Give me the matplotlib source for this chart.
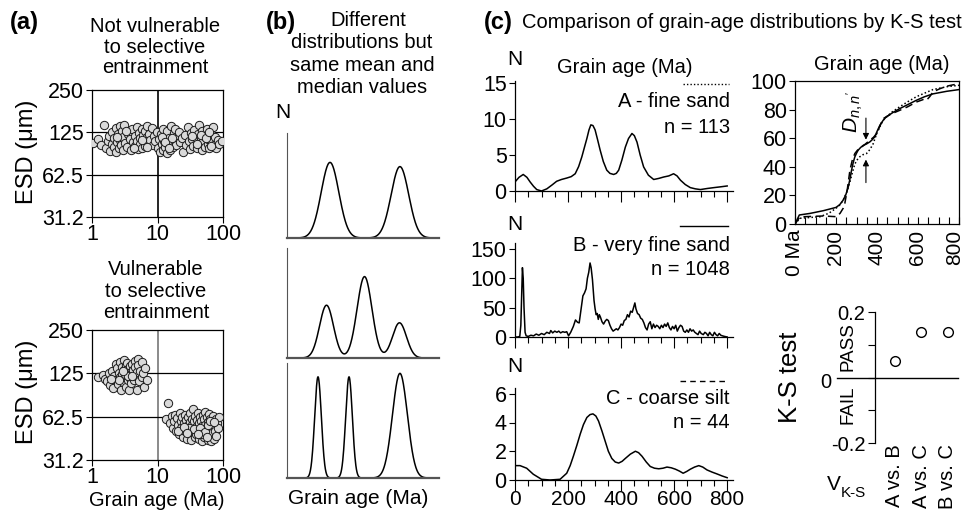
import numpy as np
import matplotlib
matplotlib.use("Agg")
import matplotlib.pyplot as plt
from matplotlib.lines import Line2D
from matplotlib.ticker import NullLocator
from matplotlib.transforms import ScaledTranslation

plt.rcParams['font.family'] = ['Liberation Sans', 'DejaVu Sans']
plt.rcParams['mathtext.fontset'] = 'custom'
plt.rcParams['mathtext.it'] = 'Liberation Sans:italic'
plt.rcParams['mathtext.rm'] = 'Liberation Sans'

# ---------------------------------------------------------------- data
# (a) grain age (Ma) vs equivalent spherical diameter (um)
top_age = [1.05, 1.25, 1.35, 1.55, 1.65, 1.75, 1.8, 1.9, 2.0, 2.05, 2.15, 2.2, 2.3, 2.35, 2.45,
           2.5, 2.6, 2.65, 2.7, 2.8, 2.85, 2.95, 3.0, 3.1, 3.2, 3.4, 3.6, 3.8, 4.0, 4.1, 4.3,
           4.5, 4.6, 4.8, 4.9, 5.0, 5.2, 5.4, 5.5, 5.7, 5.8, 6.0, 6.2, 6.4, 6.5, 6.8, 7.0, 7.2,
           7.5, 7.8, 8.1, 8.4, 8.8, 9.2, 9.8, 10.3, 10.6, 11.0, 11.3, 11.6, 12.0, 12.3, 12.7,
           13.0, 13.4, 13.8, 14.2, 14.6, 15.0, 15.5, 16.0, 16.5, 17.0, 17.6, 18.2, 18.8, 19.5,
           20.3, 21.2, 22.3, 23.5, 24.8, 26.0, 27.5, 29.0, 30.5, 31.5, 32.5, 33.5, 35.0, 36.5,
           38.0, 39.5, 41.0, 42.5, 44.0, 45.5, 47.0, 48.5, 50.0, 52.0, 54.0, 56.0, 58.0, 60.0,
           62.0, 64.5, 67.0, 70.0, 73.0, 76.0, 79.0, 83.0, 88.0, 95.0, 2.4, 3.3, 4.4, 5.9, 6.9,
           11.8, 13.2, 14.9, 16.8, 34.0, 40.0, 46.0, 55.0, 61.0, 66.0]
top_esd = [105, 112, 101, 140, 96, 108, 118, 92, 104, 126, 99, 113, 134, 90, 107,
           121, 97, 138, 110, 102, 128, 94, 116, 141, 105, 99, 122, 112, 93, 131, 106,
           118, 100, 137, 109, 95, 124, 113, 103, 132, 97, 119, 108, 127, 100, 115, 139, 105,
           122, 111, 134, 101, 117, 108, 126, 96, 112, 90, 121, 104, 93, 133, 109,
           98, 118, 89, 127, 103, 114, 94, 138, 107, 99, 123, 110, 131, 101,
           116, 125, 106, 113, 91, 119, 102, 136, 108, 95, 124, 112, 100, 130,
           115, 97, 121, 141, 106, 114, 94, 127, 109, 118, 99, 133, 104, 112,
           96, 122, 107, 137, 101, 115, 97, 110, 104, 108, 115, 128, 96, 111, 98,
           115, 106, 97, 113, 118, 104, 120, 113, 125, 100]

young_age = [1.25, 1.45, 1.6, 1.7, 1.8, 1.9, 2.0, 2.1, 2.2, 2.3, 2.35, 2.45, 2.5, 2.6, 2.65,
             2.7, 2.8, 2.85, 2.9, 3.0, 3.05, 3.1, 3.2, 3.25, 3.3, 3.4, 3.45, 3.5, 3.6, 3.65,
             3.7, 3.8, 3.85, 3.9, 4.0, 4.1, 4.2, 4.3, 4.4, 4.5, 4.6, 4.7, 4.8, 4.9, 5.0, 5.1,
             5.3, 5.5, 5.7, 5.9, 6.1, 6.3, 6.5, 6.8, 2.55, 3.15, 3.55, 2.95, 4.05, 1.95]
young_esd = [118, 122, 114, 110, 126, 104, 130, 99, 120, 145, 112, 135, 106, 126, 150,
             117, 96, 138, 123, 109, 155, 131, 118, 142, 101, 127, 148, 113, 134, 122,
             96, 140, 116, 128, 107, 145, 124, 132, 113, 152, 138, 119, 95, 127, 157, 142,
             110, 130, 150, 118, 125, 100, 137, 113, 112, 124, 120, 130, 119, 115]

old_age = [14.5, 13.5, 15.5, 16.5, 17.0, 18.0, 18.5, 19.0, 20.0, 20.5, 21.0, 22.0, 22.5, 23.0,
           24.0, 24.5, 25.0, 26.0, 26.5, 27.0, 28.0, 28.5, 29.0, 30.0, 31.0, 31.5, 32.0, 33.0,
           33.5, 34.0, 35.0, 35.5, 36.0, 37.0, 38.0, 38.5, 39.0, 40.0, 41.0, 42.0, 42.5, 43.0,
           44.0, 45.0, 46.0, 47.0, 48.0, 49.0, 50.0, 51.0, 52.0, 53.0, 54.0, 55.0, 56.0, 57.0,
           58.0, 59.0, 60.0, 61.0, 62.0, 63.0, 64.0, 65.0, 66.0, 67.0, 68.0, 70.0, 72.0, 73.0,
           75.0, 77.0, 79.0, 81.0, 84.0, 86.0, 30.5, 36.5, 44.5, 48.5, 53.5, 58.5, 62.5, 20.8,
           25.5, 27.8, 41.5, 57.5, 74.0]
old_esd = [78, 60, 56, 63, 52, 58, 64, 50, 61, 55, 47, 66, 58, 52,
           62, 45, 56, 64, 50, 59, 44, 54, 62, 48, 57, 66, 52, 43,
           60, 55, 71, 49, 58, 45, 63, 53, 47, 59, 66, 51, 44, 56,
           62, 48, 58, 42, 54, 64, 50, 45, 60, 55, 67, 47, 52, 62,
           43, 57, 50, 65, 46, 54, 60, 42, 52, 58, 48, 63, 44, 55,
           50, 60, 46, 56, 52, 62, 52, 51, 52, 47, 49, 55, 58, 50,
           53, 48, 47, 45, 57]

esd_ticks = [31.2, 62.5, 125, 250]
esd_labels = ['31.2', '62.5', '125', '250']
age_ticks_log = [1, 10, 100]

# (b) idealised age spectra: peak centre, height and width (fraction of age axis)
b_centers = [[0.283, 0.743], [0.26, 0.51, 0.74], [0.204, 0.408, 0.743]]
b_heights = [[0.72, 0.68], [0.48, 0.74, 0.32], [0.88, 0.88, 0.91]]
b_widths = [[0.058, 0.058], [0.046, 0.049, 0.046], [0.022, 0.022, 0.049]]

# (c) probability density of grain ages per size fraction
a_age = [0, 15, 31, 45, 57, 70, 82, 100, 120, 140, 157, 175, 195, 212, 227, 240, 252, 262,
         271, 279, 286, 294, 302, 311, 321, 333, 346, 358, 372, 382, 391, 403, 416, 428, 441,
         450, 460, 472, 485, 503, 523, 542, 561, 580, 598, 611, 624, 642, 661, 680, 699, 725,
         750, 775, 800]
a_n = [1.26, 1.9, 2.3, 1.9, 1.26, 0.65, 0.2, 0.0, 0.3, 0.85, 1.35, 1.6, 1.8, 2.0, 2.4, 3.4,
       4.75, 6.1, 7.3, 8.5, 9.2, 9.1, 8.5, 7.2, 5.7, 4.1, 2.9, 2.45, 2.3, 2.45, 2.9, 4.3, 6.1,
       7.3, 8.0, 7.7, 6.8, 5.0, 3.35, 2.2, 1.6, 1.75, 1.95, 2.1, 2.4, 2.1, 1.5, 0.9, 0.47, 0.3,
       0.2, 0.35, 0.47, 0.58, 0.7]

b_age = [0, 10, 18, 22, 25, 28, 31, 34, 38, 42, 50, 60, 70, 80, 90, 100, 110, 120, 130, 135,
         142, 150, 158, 165, 172, 180, 188, 195, 202, 210, 220, 228, 236, 242, 250, 256, 262,
         268, 273, 278, 283, 287, 292, 298, 302, 306, 310, 314, 318, 322, 328, 334, 340, 346,
         352, 358, 364, 370, 376, 382, 388, 394, 400, 406, 412, 418, 424, 430, 436, 442, 448,
         452, 456, 462, 468, 474, 480, 486, 492, 498, 504, 510, 516, 522, 528, 534, 540, 546,
         552, 558, 564, 570, 576, 582, 588, 594, 600, 606, 612, 618, 624, 630, 636, 642, 648,
         654, 660, 666, 672, 678, 684, 690, 696, 702, 710, 716, 722, 728, 734, 740, 746, 752,
         758, 764, 770, 776, 782, 790, 800]
b_n = [0, 0, 1, 20, 70, 118, 100, 50, 8, 2, 1, 3, 2, 5, 3, 6, 4, 8, 6, 11,
       7, 10, 8, 10, 7, 9, 8, 9, 2, 8, 18, 29, 25, 24, 50, 70, 75,
       82, 100, 110, 126, 118, 98, 62, 48, 38, 40, 30, 38, 34, 26, 22, 27, 30,
       28, 20, 14, 10, 12, 14, 12, 16, 22, 20, 28, 30, 38, 34, 44, 42, 52,
       58, 48, 40, 38, 32, 30, 24, 16, 12, 22, 26, 14, 22, 16, 20, 18, 14,
       20, 16, 22, 18, 24, 16, 12, 18, 14, 20, 10, 16, 20, 18, 10, 8, 12,
       8, 14, 10, 12, 8, 6, 4, 10, 6, 4, 8, 6, 2, 8, 4, 2, 8,
       4, 2, 6, 3, 2, 1, 0]

c_age = [0, 19, 44, 69, 100, 132, 170, 195, 208, 220, 233, 246, 258, 271, 283, 294, 305, 315,
         328, 340, 352, 365, 378, 391, 404, 416, 435, 454, 466, 479, 495, 510, 526, 542, 558,
         573, 589, 605, 620, 634, 648, 661, 677, 693, 708, 724, 743, 762, 781, 800]
c_n = [1.0, 1.0, 0.82, 0.4, 0.05, 0.0, 0.05, 0.47, 1.0, 1.65, 2.4, 3.2, 3.85, 4.35, 4.55,
       4.6, 4.45, 4.1, 3.4, 2.7, 2.0, 1.5, 1.25, 1.18, 1.3, 1.5, 1.8, 2.0, 1.9, 1.65, 1.25,
       0.94, 0.82, 0.78, 0.82, 0.9, 0.85, 0.75, 0.62, 0.47, 0.6, 0.75, 0.9, 1.0, 0.9, 0.7,
       0.55, 0.42, 0.28, 0.16]

# cumulative age distributions (%)
cdf_a_age = [0, 24, 70, 122, 165, 200, 220, 235, 252, 268, 280, 292, 304, 316, 332, 349, 365,
             381, 398, 414, 430, 470, 511, 550, 592, 632, 673, 740, 800]
cdf_a = [0, 4, 4.5, 5.1, 7.5, 11, 13.5, 16.7, 22, 29.5, 36, 42, 45, 47, 48.5, 49.3, 52,
         56, 63, 68, 72.6, 78, 82, 85.5, 89, 91.5, 94, 96, 97]
cdf_b_age = [0, 21, 73, 138, 200, 218, 235, 248, 260, 268, 276, 284, 292, 300, 308, 320, 333,
             349, 365, 377, 389, 401, 414, 430, 446, 478, 511, 550, 592, 632, 673, 740, 800]
cdf_b = [0, 6.3, 7.4, 9.3, 11.6, 13.5, 16.7, 20.5, 26, 31.5, 37.7, 43, 47, 49.5, 51.6, 53.5,
         55, 56, 57.4, 59, 61, 65, 69, 72.5, 75, 78, 80.7, 83.5, 86.5, 89, 91, 92.8, 94]
cdf_c_age = [0, 24, 80, 138, 203, 220, 235, 243, 255, 268, 280, 292, 304, 316, 340, 365, 382,
             398, 414, 430, 470, 511, 550, 592, 625, 641, 657, 673, 705, 738, 770, 800]
cdf_c = [0, 5, 5.3, 5.6, 5.1, 7.5, 11, 14.4, 24, 37.7, 45, 49.3, 51.5, 52.8, 55.5, 58.6, 60.5,
         63, 68.5, 73.7, 77, 79.5, 82, 85.3, 87, 86.5, 89, 92.3, 94.5, 96.3, 97.3, 98]

# Kolmogorov-Smirnov test statistic for each pair of fractions
ks_pairs = ['A vs. B', 'A vs. C', 'B vs. C']
ks_values = [0.05, 0.14, 0.14]

# ---------------------------------------------------------------- figure
W, H = 965, 511
fig = plt.figure(figsize=(W / 100, H / 100), dpi=100)


def rect(x0, y0, x1, y1):
    return [x0 / W, 1 - y1 / H, (x1 - x0) / W, (y1 - y0) / H]


def ftext(x, y, s, **kw):
    kw.setdefault('ha', 'center')
    kw.setdefault('va', 'center')
    fig.text(x / W, 1 - y / H, s, **kw)


def fline(x0, x1, y, **kw):
    fig.add_artist(Line2D([x0 / W, x1 / W], [1 - y / H, 1 - y / H],
                          transform=fig.transFigure, color='black', **kw))


LBL = 15.5
TXT = 14.5

# ---- (a) scatter plots
def scatter_panel(r, groups, vcolor):
    ax = fig.add_axes(rect(*r))
    ax.set_xscale('log')
    ax.set_yscale('log', base=2)
    ax.set_xlim(1, 100)
    ax.set_ylim(31.2, 250)
    ax.axvline(10, color=vcolor, lw=1.2, zorder=1)
    for yv in esd_ticks[1:3]:
        ax.axhline(yv, color='black', lw=0.9, zorder=1)
    for ages, esd in groups:
        ax.scatter(ages, esd, s=36, facecolor='#d9d9d9', edgecolor='#1a1a1a',
                   linewidths=0.7, zorder=3)
    ax.set_xticks(age_ticks_log, [str(t) for t in age_ticks_log])
    ax.set_yticks(esd_ticks, esd_labels)
    ax.xaxis.set_minor_locator(NullLocator())
    ax.yaxis.set_minor_locator(NullLocator())
    ax.tick_params(length=4, width=0.8, labelsize=LBL, pad=2)
    ax.tick_params(axis='x', pad=1)
    for s in ax.spines.values():
        s.set_linewidth(0.9)
    return ax


scatter_panel((92, 90, 223, 217), [(top_age, top_esd)], 'black')
scatter_panel((92, 330, 223, 460), [(young_age, young_esd), (old_age, old_esd)], '#777777')

ftext(10, 29, '(a)', ha='left', va='baseline', fontsize=17, fontweight='bold')
for s, y in zip(['Not vulnerable', 'to selective', 'entrainment'], [32, 53, 73]):
    ftext(155, y, s, va='baseline', fontsize=TXT)
for s, y in zip(['Vulnerable', 'to selective', 'entrainment'], [275, 297, 318]):
    ftext(156, y, s, va='baseline', fontsize=TXT)
ftext(27, 152, 'ESD (\u03bcm)', rotation=90, fontsize=17)
ftext(27, 392, 'ESD (\u03bcm)', rotation=90, fontsize=17)
ftext(157, 500, 'Grain age (Ma)', fontsize=14.5)

# ---- (b) idealised spectra
bx = np.linspace(0, 1, 500)
for (y0, y1), cs, hs, ws in zip([(133, 238), (248, 358), (363, 478)],
                                b_centers, b_heights, b_widths):
    ax = fig.add_axes(rect(287, y0, 439, y1))
    curve = sum(h * np.exp(-0.5 * ((bx - c) / w) ** 2) for c, h, w in zip(cs, hs, ws))
    ax.plot(bx, curve, color='black', lw=1.1)
    ax.set_xlim(0, 1)
    ax.set_ylim(0, 1)
    ax.set_xticks([])
    ax.set_yticks([])
    ax.spines['top'].set_visible(False)
    ax.spines['right'].set_visible(False)
    ax.spines['left'].set_color('#555555')
    ax.spines['left'].set_linewidth(0.8)
    ax.spines['bottom'].set_color('#555555')
    ax.spines['bottom'].set_linewidth(1.6)

ftext(266, 29, '(b)', ha='left', va='baseline', fontsize=17, fontweight='bold')
for s, x, y in zip(['Different', 'distributions but', 'same mean and', 'median values'],
                   [368, 362, 362, 362], [26, 48, 71, 93]):
    ftext(x, y, s, va='baseline', fontsize=TXT)
ftext(283, 113, 'N', fontsize=15)
ftext(358, 498, 'Grain age (Ma)', fontsize=15)

# ---- (c) age spectra
def dist_panel(y0, y1, ages, counts, ymax, yticks, xlabels):
    ax = fig.add_axes(rect(515, y0, 733, y1))
    ax.plot(ages, counts, color='black', lw=1.1)
    ax.set_xlim(0, 822)
    ax.set_ylim(0, ymax)
    ax.spines['top'].set_visible(False)
    ax.spines['right'].set_visible(False)
    for s in ('left', 'bottom'):
        ax.spines[s].set_linewidth(0.9)
    ax.set_yticks(yticks)
    ax.set_xticks([0, 200, 400, 600, 800])
    ax.set_xticks(np.arange(0, 801, 50), minor=True)
    ax.tick_params(axis='y', length=4, width=0.8, labelsize=LBL, pad=2)
    ax.tick_params(axis='x', which='major', length=8, width=0.8, labelsize=15, pad=-1)
    ax.tick_params(axis='x', which='minor', length=4, width=0.8)
    if not xlabels:
        ax.set_xticklabels([])
    return ax


dist_panel(81, 191, a_age, a_n, 15.3, [0, 5, 10, 15], False)
dist_panel(243, 337, b_age, b_n, 160, [0, 50, 100, 150], False)
dist_panel(388, 480, c_age, c_n, 6.4, [0, 2, 4, 6], True)

ftext(484, 29, '(c)', ha='left', va='baseline', fontsize=17, fontweight='bold')
ftext(522, 28, 'Comparison of grain-age distributions by K-S test', ha='left',
      va='baseline', fontsize=TXT)
ftext(515, 59, 'N', fontsize=15)
ftext(515, 224, 'N', fontsize=15)
ftext(515, 366, 'N', fontsize=15)
ftext(625, 67, 'Grain age (Ma)', fontsize=TXT)
fline(683, 729, 84, lw=1.0, ls=(0, (1, 1.5)))
ftext(730, 107, 'A - fine sand', ha='right', va='baseline', fontsize=TXT)
ftext(730, 133, 'n = 113', ha='right', va='baseline', fontsize=TXT)
fline(680, 728, 226, lw=1.0)
ftext(730, 251, 'B - very fine sand', ha='right', va='baseline', fontsize=TXT)
ftext(730, 275, 'n = 1048', ha='right', va='baseline', fontsize=TXT)
fline(680, 728, 381, lw=1.0, ls=(0, (4, 3)))
ftext(730, 404, 'C - coarse silt', ha='right', va='baseline', fontsize=TXT)
ftext(730, 428, 'n = 44', ha='right', va='baseline', fontsize=TXT)

# ---- cumulative distributions
ax = fig.add_axes(rect(795, 81, 959, 224))
ax.plot(cdf_a_age, cdf_a, color='black', lw=1.1, ls=(0, (1, 1.5)))
ax.plot(cdf_b_age, cdf_b, color='black', lw=1.1)
ax.plot(cdf_c_age, cdf_c, color='black', lw=1.1, ls=(0, (5, 3)))
ax.set_xlim(0, 800)
ax.set_ylim(0, 100)
ax.set_yticks(range(0, 101, 20))
ax.set_xticks([0, 200, 400, 600, 800], ['0 Ma', '200', '400', '600', '800'],
              rotation=90)
ax.set_xticks(np.arange(0, 801, 50), minor=True)
ax.tick_params(axis='y', length=4, width=0.8, labelsize=LBL, pad=2)
ax.tick_params(axis='x', which='both', direction='in', length=5, width=0.8,
               labelsize=15, pad=4)
# keep the last rotated label inside the canvas
last = ax.get_xticklabels()[-1]
last.set_transform(last.get_transform() + ScaledTranslation(-4 / 100, 0, fig.dpi_scale_trans))
for s in ax.spines.values():
    s.set_linewidth(0.9)
d_age = 346
ax.annotate('', xy=(d_age, 57), xytext=(d_age, 76),
            arrowprops=dict(arrowstyle='-|>', lw=0.8, color='black', mutation_scale=9))
ax.annotate('', xy=(d_age, 47), xytext=(d_age, 27),
            arrowprops=dict(arrowstyle='-|>', lw=0.8, color='black', mutation_scale=9))
ftext(853, 112, r"$D_{n,n'}$", rotation=90, fontsize=15)
ftext(882, 65, 'Grain age (Ma)', fontsize=TXT)

# ---- K-S test result
ax = fig.add_axes(rect(875, 312, 958, 443))
pos = np.arange(1, len(ks_values) + 1)
ax.plot(pos, ks_values, 'o', mfc='none', mec='black', ms=7, mew=1.0, clip_on=False)
ax.set_xlim(0.25, 3.38)
ax.set_ylim(-0.2, 0.2)
ax.plot([-0.46, 1], [0, 0], transform=ax.get_yaxis_transform(), color='black',
        lw=1.0, clip_on=False)
for s in ('top', 'right', 'bottom'):
    ax.spines[s].set_visible(False)
ax.spines['left'].set_linewidth(0.9)
ax.set_xticks([])
ax.set_yticks([-0.2, -0.1, 0, 0.1, 0.2], ['-0.2', '', '', '', '0.2'])
ax.tick_params(axis='y', length=5, width=0.8, labelsize=14.5, pad=2)
for p, name in zip(pos, ks_pairs):
    ax.annotate(name, xy=(p, -0.2), xytext=(0, -1), textcoords='offset points',
                rotation=90, ha='center', va='top', fontsize=14.5)
ftext(826, 382, '0', fontsize=14.5)
ftext(848, 347, 'PASS', rotation=90, fontsize=13.5)
ftext(848, 405, 'FAIL', rotation=90, fontsize=13.5)
ftext(790, 377, 'K-S test', rotation=90, fontsize=18.5)
ftext(834, 484, 'V', fontsize=15)
ftext(853, 493, 'K-S', fontsize=11)

fig.savefig('out.png', dpi=100)
